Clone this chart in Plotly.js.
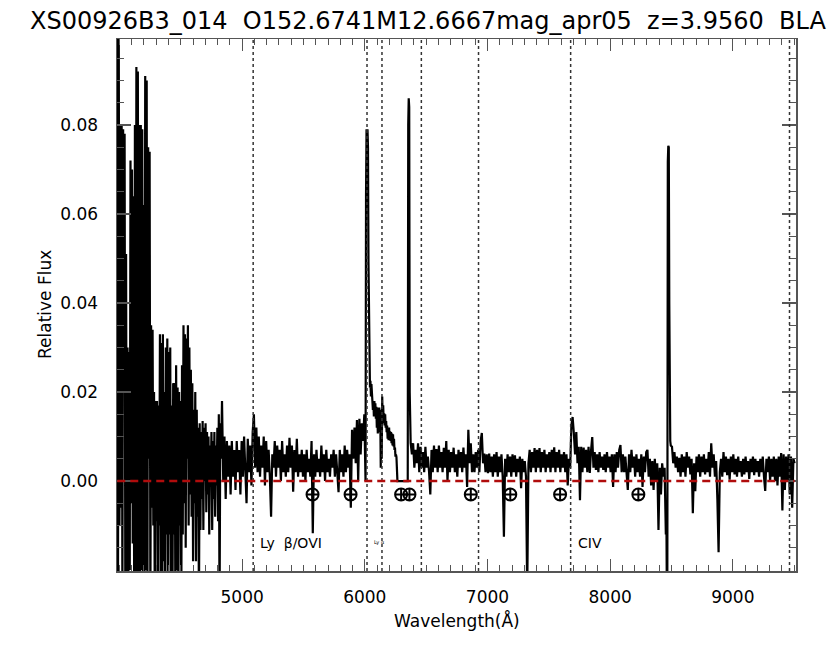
<!DOCTYPE html>
<html>
<head>
<meta charset="utf-8">
<script src="https://cdn.plot.ly/plotly-3.0.1.min.js"></script>
<style>
body { margin: 0; background: #fff; overflow: hidden; }
#plot { width: 830px; height: 650px; }
</style>
</head>
<body>
<div id="plot"></div>
<script>
// flux, piece by piece (start wavelength + step in Angstrom)
const blueStart = 3982, blueStep = 6;
const fluxBlue = [
  0.11, -0.03, 0.11, -0.01, 0.080, -0.006, 0.080, -0.03, 0.079, 0.02,
  0.078, -0.03, 0.051, -0.03, 0.030, -0.03, 0.029, -0.02, 0.072, -0.005,
  0.070, -0.014, 0.064, -0.03, 0.080, -0.03, 0.093, -0.03, 0.092, -0.03,
  0.080, -0.03, 0.080, -0.02, 0.079, -0.03, 0.062, -0.03, 0.091, -0.02,
  0.090, -0.03, 0.075, 0.005, 0.074, -0.03, 0.035, -0.006, 0.034, -0.01,
  0.020, -0.03, 0.018, -0.009, 0.018, -0.03, 0.017, -0.01, 0.033, -0.03,
  0.031, -0.03, 0.033, -0.018, 0.020, -0.03, 0.030, -0.012, 0.032, -0.03,
  0.029, -0.012, 0.030, -0.03, 0.017, -0.03, 0.022, -0.012, 0.022, -0.03,
  0.026, -0.02, 0.021, -0.03, 0.020, -0.01, 0.018, -0.03, 0.026, -0.012,
  0.035, -0.005, 0.033, -0.015, 0.032, 0.005, 0.035, -0.01, 0.030, -0.003,
  0.025, -0.008, 0.022, -0.018, 0.016, -0.005, 0.020, -0.018, 0.016, -0.008,
  0.012, -0.03, 0.013, -0.011, 0.011, -0.004, 0.0135, -0.011, 0.012, 0.000,
  0.013, -0.007, 0.011, -0.003, 0.010, -0.012, 0.008, 0.000, 0.011, -0.011,
  0.009, -0.004, 0.011, -0.008, 0.008, -0.001, 0.012, -0.009, 0.015, -0.03,
  0.013, 0.005
];

const lybStart = 4836, lybStep = 10;
const fluxLyb = [
  0.018, 0.000, 0.010, -0.004, 0.009, 0.001, 0.008, -0.003, 0.009, 0.001,
  0.007, -0.002, 0.009, 0.002, 0.007, -0.003, 0.009, 0.001, 0.010, 0.002,
  -0.005, 0.0095, 0.002, 0.008, -0.001, 0.011, 0.015, 0.003, 0.012, 0.002,
  0.010, 0.001, 0.008, 0.003, 0.010, -0.001, 0.009, 0.002, 0.007, 0.001,
  -0.008, 0.006, 0.003, 0.009, 0.001, 0.008, 0.003, 0.007, 0.000, 0.009,
  0.002, 0.006, 0.001, 0.008, 0.002, 0.0097, 0.003, 0.008, -0.0024, 0.007,
  0.002, 0.0095, 0.001, 0.006, 0.002, 0.007, 0.001, 0.006, 0.000, 0.007,
  0.002, 0.005, 0.001, 0.009, -0.0117, 0.006, 0.001, 0.007, 0.002, 0.005,
  0.001, 0.008, 0.002, 0.006, 0.000, 0.007, 0.002, 0.005, 0.001, 0.006,
  0.003, 0.007, 0.001, 0.006, 0.002, -0.0025, 0.007, 0.002, 0.006, 0.001,
  0.008, 0.002, 0.007, 0.003, 0.006, -0.006, 0.0115, 0.005, 0.012, 0.004,
  0.0137, 0.000, 0.014, 0.006, 0.013, 0.009, 0.015, 0.000
];

const lyaStart = 6010, lyaStep = 4;
const fluxLya = [
  0.064, 0.079, 0.078, 0.079, 0.075, 0.049, 0.030, 0.0227, 0.021, 0.0225,
  0.019, 0.0218, 0.018, 0.0197, 0.016, 0.018, 0.0145, 0.018, 0.015, 0.0175,
  0.014, 0.0167, 0.012, 0.0165, 0.0107, 0.016, 0.012, 0.0165, 0.011, 0.015,
  0.003, 0.016, 0.005, 0.019, 0.013, 0.017, 0.013, 0.0152, 0.0125, 0.015,
  0.012, 0.0135, 0.011, 0.0125, 0.0095, 0.0115, 0.0092, 0.012, 0.0095, 0.0112,
  0.009, 0.011, 0.0085, 0.0107, 0.008, 0.0105, 0.0078, 0.0095, 0.007, 0.0075,
  0.0055, 0.006, 0.0054, 0.000, 0.000, 0.000, 0.000, 0.000, 0.000, 0.000,
  0.000, 0.000, 0.000, 0.000, 0.000, 0.000, 0.000, 0.000, 0.000, 0.000,
  0.000, 0.000, 0.000, 0.000, 0.000, 0.000, 0.080, 0.086, 0.084, 0.020
];

const redStart = 6374, redStep = 10;
const fluxRed = [
  0.0085, 0.006, 0.0085, 0.003, 0.007, 0.004, 0.0085, 0.002, 0.0077, 0.003,
  0.0065, 0.002, 0.0077, 0.003, 0.0055, 0.002, -0.003, 0.007, 0.002, 0.008,
  0.003, 0.0072, 0.002, 0.008, 0.003, 0.0065, 0.002, 0.0075, 0.003, 0.009,
  0.000, 0.007, 0.002, 0.0065, 0.003, 0.0075, 0.002, 0.006, 0.001, 0.007,
  0.003, 0.0065, 0.002, 0.0075, 0.003, 0.006, -0.0013, 0.0115, 0.004, 0.0085,
  0.002, 0.006, 0.002, 0.0065, 0.003, 0.007, 0.002, 0.009, 0.0108, 0.004,
  0.0062, 0.002, 0.006, 0.0018, 0.0062, 0.002, 0.0055, 0.001, 0.006, 0.002,
  0.0065, 0.001, 0.0055, 0.002, 0.006, 0.001, -0.0125, 0.005, 0.001, 0.006,
  0.002, 0.0055, 0.001, 0.006, 0.002, 0.0058, 0.001, 0.005, 0.002, 0.0055,
  -0.0016, 0.005, 0.002, 0.0045, 0.001, -0.025, 0.004, 0.007, 0.002, 0.0065,
  0.003, 0.0074, 0.002, 0.007, 0.003, 0.0074, 0.002, 0.0065, 0.003, 0.007,
  0.002, 0.006, 0.003, 0.0065, 0.002, 0.007, 0.003, 0.0076, 0.002, 0.0065,
  0.003, 0.007, 0.002, 0.006, 0.003, 0.0065, 0.002, 0.006, -0.001, 0.005,
  0.003, 0.0125, 0.0144, 0.0108, 0.006, 0.011, 0.004, 0.0077, -0.0043, 0.0077,
  0.002, 0.0075, 0.003, 0.007, 0.002, 0.0077, 0.0018, 0.0068, 0.0099, 0.003,
  0.0065, 0.0025, 0.006, 0.002, 0.0065, 0.003, 0.0055, 0.0025, 0.006, 0.002,
  0.0065, 0.003, 0.0055, 0.002, 0.006, -0.0013, 0.006, 0.002, 0.0065, 0.003,
  0.007, 0.0081, 0.002, 0.006, 0.002, 0.0055, 0.001, -0.002, 0.006, 0.002,
  0.007, 0.003, 0.0055, 0.001, 0.006, 0.002, 0.005, 0.001, 0.006, -0.0013,
  0.0055, 0.002, 0.0065, 0.007, 0.001, 0.005, -0.001, 0.0045, -0.002, 0.005,
  0.000, 0.004, -0.011, 0.003, -0.003, 0.004, 0.001, 0.003, -0.012
];

const peakStart = 8458, peakStep = 4;
const fluxPeak = [-0.005, -0.025, -0.025, 0.0717, 0.0753, 0.075, 0.040, 0.012, 0.009];

const farStart = 8494, farStep = 10;
const fluxFar = [
  0.008, 0.0077, 0.004, 0.0065, 0.003, 0.0055, 0.002, 0.0052, 0.001, 0.006,
  0.002, 0.0055, 0.001, 0.0065, 0.003, 0.0055, 0.0015, 0.005, -0.0072, 0.004,
  -0.0023, 0.0055, 0.002, 0.006, 0.001, 0.0055, 0.002, 0.006, 0.0015, 0.005,
  0.002, 0.0065, 0.001, 0.0085, 0.003, 0.006, 0.001, 0.0045, -0.004, -0.016,
  0.002, 0.005, 0.001, 0.0065, 0.002, 0.0055, 0.0013, 0.005, 0.0003, 0.0055,
  0.002, 0.006, 0.0015, 0.005, 0.001, 0.0055, 0.002, 0.0045, 0.001, 0.005,
  0.0015, 0.0055, 0.002, 0.0045, 0.0005, 0.005, 0.002, 0.0055, 0.0013, 0.005,
  0.002, 0.0045, 0.001, 0.005, 0.002, 0.0055, 0.001, -0.0022, 0.005, 0.002,
  0.0055, 0.000, 0.005, 0.001, 0.0055, 0.000, 0.005, -0.001, 0.0055, 0.001,
  0.0063, -0.0066, 0.006, -0.002, 0.0055, 0.000, 0.006, -0.003, 0.0055, -0.006,
  0.005, 0.004
];

// emission line markers and telluric bands
const lineWaves = [5090, 6018, 6140, 6461, 6927, 7678, 9462];
const lineLabels = ['Ly\u00a0\u00a0\u03b2/OVI', 'Ly \u03b1', '', '', '', 'CIV', ''];
const tellWaves = [5574, 5884, 6296, 6364, 6864, 7186, 7592, 8230];
const tellLevel = -0.003;
const labelLevel = -0.0138;

// labelled ticks
const xTicks = [5000, 6000, 7000, 8000, 9000];
const yTicks = [0.00, 0.02, 0.04, 0.06, 0.08];

let wave = [];
let flux = [];
function addPiece(start, step, vals) {
  vals.forEach((f, i) => {
    wave.push(start + i * step);
    flux.push(f);
  });
}
addPiece(blueStart, blueStep, fluxBlue);
addPiece(lybStart, lybStep, fluxLyb);
addPiece(lyaStart, lyaStep, fluxLya);
addPiece(redStart, redStep, fluxRed);
addPiece(peakStart, peakStep, fluxPeak);
addPiece(farStart, farStep, fluxFar);

const font = 'DejaVu Sans, Arial, sans-serif';

var data = [
  {
    x: wave,
    y: flux,
    type: 'scatter',
    mode: 'lines',
    line: { color: '#000', width: 2.2 },
    hoverinfo: 'skip'
  },
  {
    x: tellWaves,
    y: tellWaves.map(() => tellLevel),
    type: 'scatter',
    mode: 'markers',
    marker: { symbol: 'circle-cross-open', size: 12, color: '#000', line: { color: '#000', width: 2 } },
    hoverinfo: 'skip'
  }
];

let shapes = lineWaves.map(w => ({
  type: 'line', xref: 'x', yref: 'paper',
  x0: w, x1: w, y0: 0, y1: 1,
  line: { color: '#333', width: 1.5, dash: 'dot' }
}));
// zero level
shapes.push({
  type: 'line', xref: 'x', yref: 'y',
  x0: wave[0], x1: wave[wave.length - 1], y0: 0, y1: 0,
  line: { color: '#b00c0c', width: 2.5, dash: '8px,5px' }
});

let annotations = [];
lineWaves.forEach((w, i) => {
  if (!lineLabels[i]) return;
  annotations.push({
    x: w, y: labelLevel, xref: 'x', yref: 'y',
    text: lineLabels[i], showarrow: false,
    xanchor: 'left', xshift: 5,
    font: { family: font, size: i === 1 ? 5 : 14, color: '#000' }
  });
});
// axis titles placed by hand like the IDL plot
annotations.push({
  xref: 'paper', yref: 'paper', x: 0.5, y: 0,
  xanchor: 'center', yanchor: 'middle', yshift: -49,
  text: 'Wavelength(\u00c5)', showarrow: false,
  font: { family: font, size: 17, color: '#000' }
});
annotations.push({
  xref: 'paper', yref: 'paper', x: 0, y: 0.5,
  xanchor: 'center', yanchor: 'middle', xshift: -72,
  textangle: -90,
  text: 'Relative Flux', showarrow: false,
  font: { family: font, size: 17, color: '#000' }
});

var layout = {
  width: 830,
  height: 650,
  margin: { l: 117, r: 34, t: 39, b: 79 },
  paper_bgcolor: '#fff',
  plot_bgcolor: '#fff',
  showlegend: false,
  font: { family: font, color: '#000' },
  // the reference title runs off the page after "BLA"
  title: {
    text: 'XS00926B3_014\u00a0\u00a0O152.6741M12.6667mag_apr05\u00a0\u00a0z=3.9560\u00a0\u00a0BLA',
    font: { family: font, size: 24, color: '#000' },
    xref: 'container', x: 30 / 830, xanchor: 'left',
    yref: 'container', y: 1 - 21 / 650, yanchor: 'middle'
  },
  xaxis: {
    range: [3980, 9515],
    tickvals: xTicks,
    ticktext: xTicks.map(String),
    ticks: 'inside',
    ticklen: 12,
    tickwidth: 1.2,
    tickcolor: '#555',
    minor: { ticks: 'inside', ticklen: 6, dtick: 100, tickcolor: '#555', tickwidth: 1 },
    showline: true,
    linecolor: '#555',
    linewidth: 1.5,
    mirror: 'allticks',
    showgrid: false,
    zeroline: false,
    ticklabelstandoff: 10,
    tickfont: { family: font, size: 17, color: '#000' }
  },
  yaxis: {
    range: [-0.0202, 0.0993],
    tickvals: yTicks,
    ticktext: yTicks.map(v => v.toFixed(2)),
    ticks: 'inside',
    ticklen: 14,
    tickwidth: 1.2,
    tickcolor: '#555',
    minor: { ticks: 'inside', ticklen: 7, dtick: 0.005, tickcolor: '#555', tickwidth: 1 },
    showline: true,
    linecolor: '#555',
    linewidth: 1.5,
    mirror: 'allticks',
    showgrid: false,
    zeroline: false,
    ticklabelstandoff: 14,
    tickfont: { family: font, size: 17, color: '#000' }
  },
  shapes: shapes,
  annotations: annotations
};

Plotly.newPlot('plot', data, layout, { displayModeBar: false, staticPlot: true });
</script>
</body>
</html>
